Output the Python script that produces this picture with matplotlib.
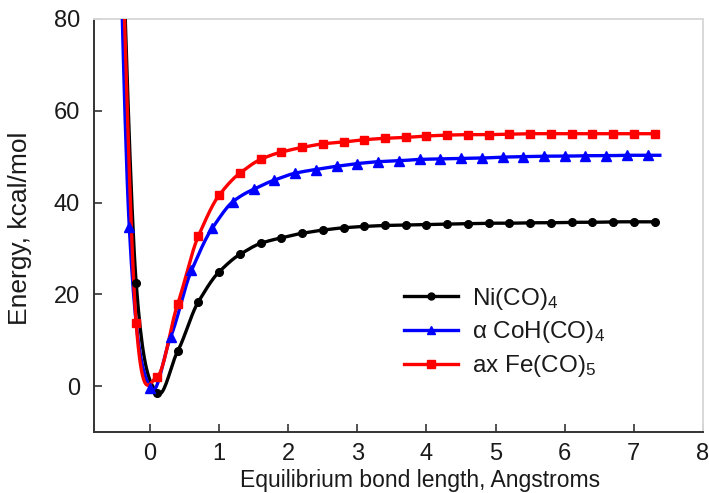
import numpy as np
import matplotlib
matplotlib.use("Agg")
import matplotlib.pyplot as plt
from matplotlib.lines import Line2D

plt.rcParams['font.family'] = ['Liberation Sans', 'DejaVu Sans']
plt.rcParams['mathtext.fontset'] = 'custom'
plt.rcParams['mathtext.rm'] = 'Liberation Sans'
plt.rcParams['mathtext.it'] = 'Liberation Sans:italic'

# ---- data ----
ni_x = [-0.5, -0.2, 0.1, 0.4, 0.7, 1.0, 1.3, 1.6, 1.9, 2.2, 2.5, 2.8, 3.1, 3.4,
        3.7, 4.0, 4.3, 4.6, 4.9, 5.2, 5.5, 5.8, 6.1, 6.4, 6.7, 7.0, 7.3]
ni_y = [140, 22.4, -1.4, 7.6, 18.4, 24.9, 28.7, 31.1, 32.3, 33.3, 34.0, 34.5, 34.8, 35.0,
        35.1, 35.2, 35.3, 35.4, 35.5, 35.5, 35.6, 35.6, 35.7, 35.7, 35.8, 35.8, 35.8]

co_x = [-0.6, -0.3, 0.0, 0.3, 0.6, 0.9, 1.2, 1.5, 1.8, 2.1, 2.4, 2.7, 3.0, 3.3,
        3.6, 3.9, 4.2, 4.5, 4.8, 5.1, 5.4, 5.7, 6.0, 6.3, 6.6, 6.9, 7.2, 7.4]
co_y = [200, 34.7, -0.4, 10.8, 25.2, 34.4, 40.2, 42.9, 44.9, 46.4, 47.2, 47.9, 48.5, 48.9,
        49.1, 49.4, 49.5, 49.6, 49.7, 49.9, 50.0, 50.1, 50.1, 50.2, 50.2, 50.3, 50.3, 50.3]

fe_x = ni_x
fe_y = [140, 13.7, 2.0, 17.9, 32.7, 41.6, 46.4, 49.4, 51.0, 52.0, 52.8, 53.2, 53.7, 54.0,
        54.2, 54.5, 54.7, 54.8, 54.8, 54.9, 55.0, 55.0, 55.0, 55.0, 55.0, 55.0, 55.0]

labels = ["Ni(CO)$_4$", "\u03b1 CoH(CO)$_4$", "ax Fe(CO)$_5$"]
colors = ["black", "#0000ff", "#ff0000"]
markers = ["o", "^", "s"]
msizes = [5.5, 6.5, 6.0]
xticks = [0, 1, 2, 3, 4, 5, 6, 7, 8]
yticks = [0, 20, 40, 60, 80]


def smooth(x, y, n=20, tension=0.85):
    """Cardinal-spline smoothing of the drawn line (rendering only)."""
    x = np.asarray(x, float)
    y = np.asarray(y, float)
    px = np.concatenate([[2 * x[0] - x[1]], x, [2 * x[-1] - x[-2]]])
    py = np.concatenate([[2 * y[0] - y[1]], y, [2 * y[-1] - y[-2]]])
    xs, ys = [], []
    t = np.linspace(0, 1, n, endpoint=False)
    h00 = 2 * t**3 - 3 * t**2 + 1
    h10 = t**3 - 2 * t**2 + t
    h01 = -2 * t**3 + 3 * t**2
    h11 = t**3 - t**2
    for i in range(1, len(px) - 2):
        xs.append(h00 * px[i] + h10 * (px[i + 1] - px[i - 1]) / 2 +
                  h01 * px[i + 1] + h11 * (px[i + 2] - px[i]) / 2)
        m1 = tension * (py[i + 1] - py[i - 1]) / 2
        m2 = tension * (py[i + 2] - py[i]) / 2
        ys.append(h00 * py[i] + h10 * m1 + h01 * py[i + 1] + h11 * m2)
    xs.append([x[-1]])
    ys.append([y[-1]])
    return np.concatenate(xs), np.concatenate(ys)


fig = plt.figure(figsize=(7.09, 4.93), dpi=100)
ax = fig.add_axes([0.1326, 0.1237, 0.8589, 0.8378])

series = [(ni_x, ni_y, None), (co_x, co_y, list(range(27))), (fe_x, fe_y, None)]
handles = []
for (sx, sy, mk), lab, c, m, ms in zip(series, labels, colors, markers, msizes):
    lx, ly = smooth(sx, sy)
    ax.plot(lx, ly, color=c, lw=2.4, solid_capstyle='butt', zorder=3)
    px = sx if mk is None else [sx[i] for i in mk]
    py = sy if mk is None else [sy[i] for i in mk]
    ax.plot(px, py, ls='none', marker=m, ms=ms, color=c, mec=c, zorder=4)
    handles.append(Line2D([], [], color=c, lw=2.4, marker=m, ms=ms - 0.5, label=lab))

ax.set_xlim(-0.81, 8)
ax.set_ylim(-10, 80)
ax.set_xticks(xticks)
ax.set_yticks(yticks)

dark = "#333333"
for s in ("left", "bottom"):
    ax.spines[s].set_color(dark)
    ax.spines[s].set_linewidth(1.4)
for s in ("top", "right"):
    ax.spines[s].set_color("#d9d9d9")
    ax.spines[s].set_linewidth(1.4)

ax.tick_params(direction='in', length=6, width=1.2, color=dark,
               labelsize=17, labelcolor="#1a1a1a", pad=10)
ax.tick_params(axis='x', pad=8)

ax.set_xlabel("Equilibrium bond length, Angstroms", fontsize=16.5, color="#1a1a1a")
ax.set_ylabel("Energy, kcal/mol", fontsize=19, color="#1a1a1a")
ax.xaxis.set_label_coords(0.535, -0.090)
ax.yaxis.set_label_coords(-0.102, 0.494)

leg = fig.legend(handles=handles, loc='upper left', bbox_to_anchor=(0.570, 0.420),
                 frameon=False, fontsize=17.5, handlelength=2.2, handletextpad=0.6,
                 labelspacing=0.31, borderpad=0, borderaxespad=0)
for t in leg.get_texts():
    t.set_color("#1a1a1a")

fig.savefig("out.png", dpi=100)
